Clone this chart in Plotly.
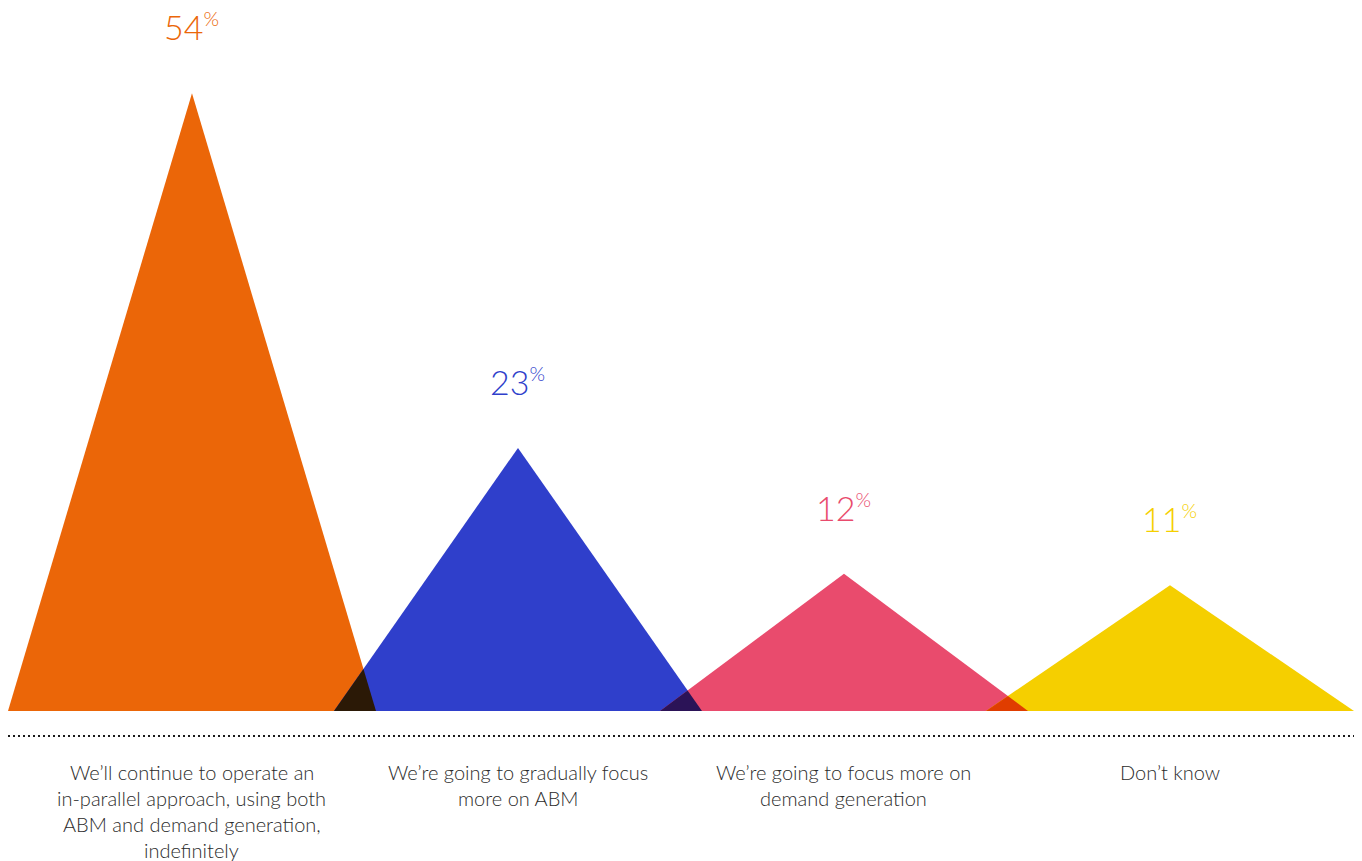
import plotly.graph_objects as go

# Survey answers and their shares (%)
categories = [
    ["We\u2019ll continue to operate an", "in-parallel approach, using both",
     "ABM and demand generation,", "indefinitely"],
    ["We\u2019re going to gradually focus", "more on ABM"],
    ["We\u2019re going to focus more on", "demand generation"],
    ["Don\u2019t know"],
]
values = [54, 23, 12, 11]
colors = [(235, 102, 8), (47, 63, 203), (233, 75, 109), (245, 207, 0)]

W, H = 1362, 861
HALF = 0.5644          # half base width of each triangle, in category units
PX_PER_X = 326.0       # pixels per category step
PX_PER_Y = 11.44       # pixels per percentage point
BASE_PX = 711          # baseline pixel row
X0_PX = 8              # left edge of the first triangle

x_min = -HALF - X0_PX / PX_PER_X
x_max = x_min + W / PX_PER_X
y_max = BASE_PX / PX_PER_Y
y_min = -(H - BASE_PX) / PX_PER_Y


def rgb(c):
    return "rgb(%d,%d,%d)" % c


def multiply(a, b):
    return tuple(round(x * y / 255) for x, y in zip(a, b))


fig = go.Figure()

# Triangles
for i, (v, c) in enumerate(zip(values, colors)):
    fig.add_trace(go.Scatter(
        x=[i - HALF, i, i + HALF, i - HALF], y=[0, v, 0, 0],
        mode="lines", fill="toself", fillcolor=rgb(c),
        line=dict(width=0), hoverinfo="skip", showlegend=False))

# Overlap between neighbours, coloured as a multiply blend
for i in range(len(values) - 1):
    h1, h2 = values[i], values[i + 1]
    # right edge of triangle i: y = h1 * (i + HALF - x) / HALF
    # left edge of triangle i+1: y = h2 * (x - (i + 1 - HALF)) / HALF
    a = i + HALF
    b = i + 1 - HALF
    xi = (h1 * a + h2 * b) / (h1 + h2)
    yi = h1 * (a - xi) / HALF
    fig.add_trace(go.Scatter(
        x=[b, xi, a, b], y=[0, yi, 0, 0],
        mode="lines", fill="toself",
        fillcolor=rgb(multiply(colors[i], colors[i + 1])),
        line=dict(width=0), hoverinfo="skip", showlegend=False))

FONT = "Lato, 'Open Sans', sans-serif"

# Value labels above peaks
for i, (v, c) in enumerate(zip(values, colors)):
    fig.add_annotation(
        x=i, y=v, xref="x", yref="y",
        text="%d<sup><span style='font-size:20px'>%%</span></sup>" % v,
        showarrow=False, yanchor="bottom", yshift=44,
        font=dict(family=FONT, size=34, color=rgb(c), weight=300))

# Dotted separator
sep_y = -(736 - BASE_PX) / PX_PER_Y
fig.add_shape(type="line", xref="x", yref="y",
              x0=-HALF, x1=len(values) - 1 + HALF, y0=sep_y, y1=sep_y,
              line=dict(color="#1a1a1a", width=2, dash="2px,3px"))

# Category labels, one annotation per line
LINE_H = 26
first_line_y = -(772 - BASE_PX) / PX_PER_Y
for i, lines in enumerate(categories):
    for j, line in enumerate(lines):
        fig.add_annotation(
            x=i, y=first_line_y, xref="x", yref="y",
            text=line, showarrow=False, yanchor="middle",
            yshift=-j * LINE_H,
            font=dict(family=FONT, size=20, color="#2b2b2b", weight=300))

fig.update_layout(
    width=W, height=H,
    margin=dict(l=0, r=0, t=0, b=0),
    paper_bgcolor="white", plot_bgcolor="white",
    xaxis=dict(range=[x_min, x_max], visible=False, fixedrange=True),
    yaxis=dict(range=[y_min, y_max], visible=False, fixedrange=True),
    showlegend=False,
)

fig.write_html("out.html")
